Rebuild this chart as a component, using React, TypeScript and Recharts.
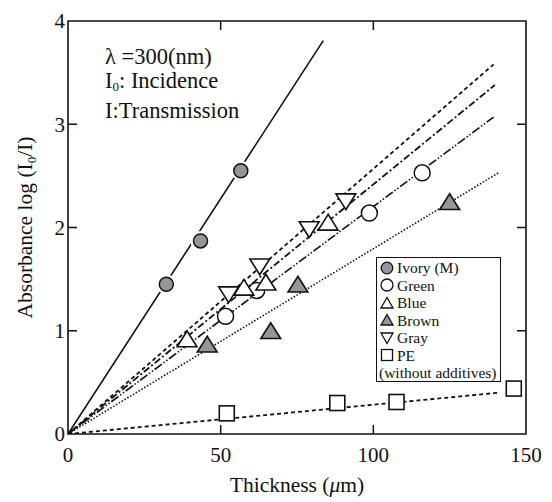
import React from "react";
import { ComposedChart, Line, Scatter, XAxis, YAxis, ReferenceArea, Legend } from "recharts";

// ---- data ----
const xTicks = [0, 50, 100, 150];
const yTicks = [0, 1, 2, 3, 4];

const ivoryX = [32.2, 43.4, 56.6];
const ivoryY = [1.45, 1.87, 2.55];
const greenX = [51.6, 61.8, 98.7, 116];
const greenY = [1.14, 1.39, 2.14, 2.53];
const blueX = [39, 57.6, 64.8, 85.2];
const blueY = [0.91, 1.41, 1.46, 2.04];
const brownX = [45.6, 66.4, 75.3, 125];
const brownY = [0.86, 0.99, 1.44, 2.24];
const grayX = [52.6, 62.8, 79, 91];
const grayY = [1.36, 1.63, 1.99, 2.26];
const peX = [52, 88.2, 107.6, 146];
const peY = [0.2, 0.3, 0.31, 0.44];

// fitted lines: start and end points
const ivoryFitX = [0, 83.6];
const ivoryFitY = [0, 3.81];
const grayFitX = [0, 139.4];
const grayFitY = [0, 3.58];
const blueFitX = [0, 139.8];
const blueFitY = [0, 3.38];
const greenFitX = [0, 139.4];
const greenFitY = [0, 3.07];
const brownFitX = [0, 141];
const brownFitY = [0, 2.53];
const peFitX = [0, 141];
const peFitY = [0, 0.4];

const legendNames = ["Ivory (M)", "Green", "Blue", "Brown", "Gray", "PE"];

const zip = (xs: number[], ys: number[]) => xs.map((x, i) => ({ x, y: ys[i] }));

const FONT = "'Liberation Serif', 'Times New Roman', serif";
const W = 552;
const H = 502;
const M = { top: 21, right: 26, bottom: 38, left: 28 };
const Y_W = 40;
const X_H = 30;
const PW = W - M.left - M.right - Y_W;
const PH = H - M.top - M.bottom - X_H;
const GRAYFILL = "#969696";

// ---- marker shapes ----
const circleShape = (fill: string, halo: boolean) => (p: any) => (
  <g>
    {halo && <circle cx={p.cx} cy={p.cy} r={10} fill="#fff" />}
    <circle cx={p.cx} cy={p.cy} r={halo ? 7 : 8} fill={fill} stroke="#111" strokeWidth={1.5} />
  </g>
);
const triShape = (fill: string, up: boolean) => (p: any) => {
  const s = 9;
  const { cx, cy } = p;
  const pts = up
    ? `${cx},${cy - s} ${cx - s * 1.1},${cy + s * 0.75} ${cx + s * 1.1},${cy + s * 0.75}`
    : `${cx},${cy + s} ${cx - s * 1.1},${cy - s * 0.75} ${cx + s * 1.1},${cy - s * 0.75}`;
  return <polygon points={pts} fill={fill} stroke="#111" strokeWidth={1.6} strokeLinejoin="miter" />;
};
const squareShape = (p: any) => (
  <rect x={p.cx - 7.5} y={p.cy - 7.5} width={15} height={15} fill="#fff" stroke="#111" strokeWidth={1.6} />
);

// ---- ticks (inward, mirrored on all four sides) ----
const XTick = (props: any) => {
  const { x, y, payload } = props;
  const v = payload.value;
  return (
    <g>
      <text x={x} y={y + 28} textAnchor="middle" fontFamily={FONT} fontSize={21} fill="#111">
        {v}
      </text>
      {v > 0 && v < 150 && (
        <>
          <line x1={x} y1={y} x2={x} y2={y - 9} stroke="#111" strokeWidth={1.5} />
          <line x1={x} y1={y - PH} x2={x} y2={y - PH + 9} stroke="#111" strokeWidth={1.5} />
        </>
      )}
    </g>
  );
};
const YTick = (props: any) => {
  const { x, y, payload } = props;
  const v = payload.value;
  return (
    <g>
      <text x={x - 3} y={y} dy="0.35em" textAnchor="end" fontFamily={FONT} fontSize={21} fill="#111">
        {v}
      </text>
      {v > 0 && v < 4 && (
        <>
          <line x1={x} y1={y} x2={x + 9} y2={y} stroke="#111" strokeWidth={1.5} />
          <line x1={x + PW} y1={y} x2={x + PW - 9} y2={y} stroke="#111" strokeWidth={1.5} />
        </>
      )}
    </g>
  );
};

const XLabel = (props: any) => {
  const vb = props.viewBox;
  const cx = vb.x + vb.width / 2;
  return (
    <text x={cx} y={vb.y + 58} textAnchor="middle" fontFamily={FONT} fontSize={21.5} fill="#111">
      Thickness (<tspan fontStyle="italic">μ</tspan>m)
    </text>
  );
};
const YLabel = (props: any) => {
  const vb = props.viewBox;
  const cy = vb.y + vb.height / 2;
  const cx = 24;
  return (
    <text
      x={cx}
      y={cy}
      dy="0.35em"
      textAnchor="middle"
      transform={`rotate(-90 ${cx} ${cy})`}
      fontFamily={FONT}
      fontSize={21.5}
      fill="#111"
    >
      Absorbance log (I<tspan fontSize={13} dy={4}>0</tspan>
      <tspan dy={-4}>/I)</tspan>
    </text>
  );
};

// ---- legend ----
const legendIcon = (i: number) => {
  const c = 7;
  switch (i) {
    case 0:
      return <circle cx={c} cy={c} r={5.8} fill={GRAYFILL} stroke="#111" strokeWidth={1.3} />;
    case 1:
      return <circle cx={c} cy={c} r={6} fill="#fff" stroke="#111" strokeWidth={1.3} />;
    case 2:
      return <polygon points="7,1.5 1,12 13,12" fill="#fff" stroke="#111" strokeWidth={1.3} />;
    case 3:
      return <polygon points="7,1.5 1,12 13,12" fill={GRAYFILL} stroke="#111" strokeWidth={1.3} />;
    case 4:
      return <polygon points="7,12.5 1,2 13,2" fill="#fff" stroke="#111" strokeWidth={1.3} />;
    default:
      return <rect x={1.5} y={1.5} width={11} height={11} fill="#fff" stroke="#111" strokeWidth={1.3} />;
  }
};
const LegendBox = () => (
  <div
    style={{
      width: 125,
      height: 125,
      boxSizing: "border-box",
      border: "1.5px solid #111",
      background: "#fff",
      fontFamily: FONT,
      fontSize: 15.5,
      color: "#111",
      padding: "1px 0 0 2px",
      lineHeight: "17.5px",
    }}
  >
    {legendNames.map((n, i) => (
      <div key={n} style={{ display: "flex", alignItems: "center", height: 17.5 }}>
        <svg width={14} height={14} style={{ marginRight: 3, marginLeft: 1 }}>
          {legendIcon(i)}
        </svg>
        <span>{n}</span>
      </div>
    ))}
    <div style={{ height: 17.5, whiteSpace: "nowrap" }}>(without additives)</div>
  </div>
);

export default function App() {
  return (
    <div style={{ position: "absolute", left: 0, top: 0, width: W, height: H, background: "#fff" }}>
      <ComposedChart width={W} height={H} margin={M}>
        <XAxis
          type="number"
          dataKey="x"
          domain={[0, 150]}
          ticks={xTicks}
          height={X_H}
          axisLine={false}
          tickLine={false}
          tickSize={0}
          tickMargin={0}
          tick={<XTick />}
          interval={0}
          allowDataOverflow
          label={<XLabel />}
        />
        <YAxis
          type="number"
          domain={[0, 4]}
          ticks={yTicks}
          width={Y_W}
          axisLine={false}
          tickLine={false}
          tickSize={0}
          tickMargin={0}
          tick={<YTick />}
          interval={0}
          allowDataOverflow
          label={<YLabel />}
        />
        <ReferenceArea x1={0} x2={150} y1={0} y2={4} fill="none" stroke="#111" strokeWidth={1.6} ifOverflow="visible" />
        <Line data={zip(ivoryFitX, ivoryFitY)} dataKey="y" type="linear" stroke="#111" strokeWidth={1.6} dot={false} activeDot={false} isAnimationActive={false} legendType="none" />
        <Line data={zip(grayFitX, grayFitY)} dataKey="y" type="linear" stroke="#111" strokeWidth={1.8} strokeDasharray="4 3" dot={false} activeDot={false} isAnimationActive={false} legendType="none" />
        <Line data={zip(blueFitX, blueFitY)} dataKey="y" type="linear" stroke="#111" strokeWidth={1.8} strokeDasharray="7 2.5 2 2.5" dot={false} activeDot={false} isAnimationActive={false} legendType="none" />
        <Line data={zip(greenFitX, greenFitY)} dataKey="y" type="linear" stroke="#111" strokeWidth={1.6} strokeDasharray="9 2 1.5 2 1.5 2" dot={false} activeDot={false} isAnimationActive={false} legendType="none" />
        <Line data={zip(brownFitX, brownFitY)} dataKey="y" type="linear" stroke="#111" strokeWidth={1.6} strokeDasharray="1.5 1.8" dot={false} activeDot={false} isAnimationActive={false} legendType="none" />
        <Line data={zip(peFitX, peFitY)} dataKey="y" type="linear" stroke="#111" strokeWidth={1.8} strokeDasharray="4 3" dot={false} activeDot={false} isAnimationActive={false} legendType="none" />
        <Scatter data={zip(ivoryX, ivoryY)} dataKey="y" shape={circleShape(GRAYFILL, true)} isAnimationActive={false} />
        <Scatter data={zip(greenX, greenY)} dataKey="y" shape={circleShape("#fff", false)} isAnimationActive={false} />
        <Scatter data={zip(blueX, blueY)} dataKey="y" shape={triShape("#fff", true)} isAnimationActive={false} />
        <Scatter data={zip(brownX, brownY)} dataKey="y" shape={triShape(GRAYFILL, true)} isAnimationActive={false} />
        <Scatter data={zip(grayX, grayY)} dataKey="y" shape={triShape("#fff", false)} isAnimationActive={false} />
        <Scatter data={zip(peX, peY)} dataKey="y" shape={squareShape} isAnimationActive={false} />
        <Legend
          layout="vertical"
          align="center"
          verticalAlign="middle"
          content={<LegendBox />}
          wrapperStyle={{ left: 376, top: 257, width: 125, height: 125 }}
        />
      </ComposedChart>
      <div
        style={{
          position: "absolute",
          left: 105,
          top: 45,
          fontFamily: FONT,
          fontSize: 22.5,
          lineHeight: "24px",
          color: "#111",
          whiteSpace: "nowrap",
        }}
      >
        <div>λ =300(nm)</div>
        <div>
          I<sub style={{ fontSize: 13, verticalAlign: "-3px" }}>0</sub>: Incidence
        </div>
        <div>I:Transmission</div>
      </div>
    </div>
  );
}
